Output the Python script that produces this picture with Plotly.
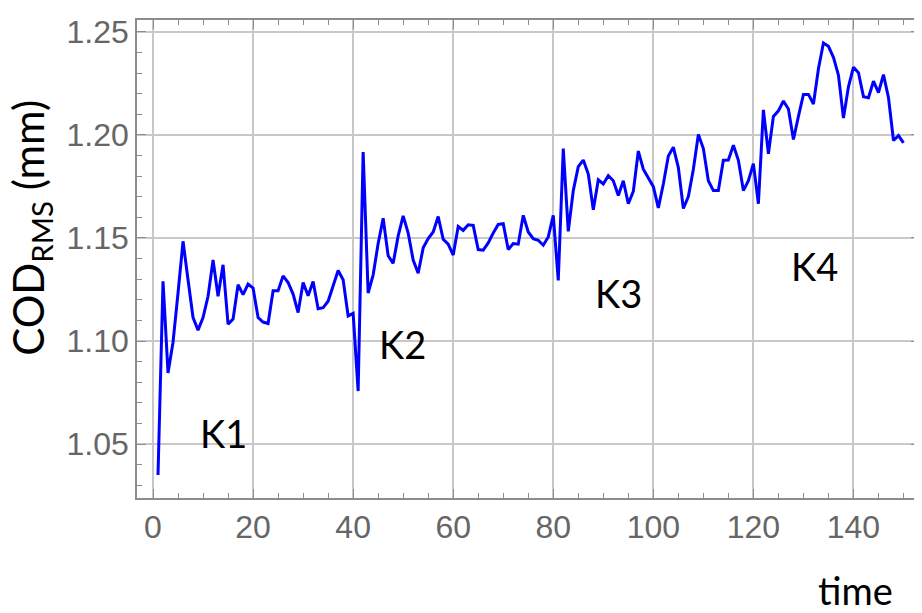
import plotly.graph_objects as go

time = list(range(1, 151))
cod_rms = [
    1.035, 1.129, 1.0845, 1.0994, 1.1233, 1.1484, 1.1297, 1.1114, 1.1053, 1.1114,
    1.1217, 1.1393, 1.1217, 1.1370, 1.1082, 1.1106, 1.1273, 1.1225, 1.1276, 1.1257,
    1.1114, 1.1092, 1.1085, 1.1244, 1.1244, 1.1316, 1.1284, 1.1228, 1.1138, 1.1284,
    1.1220, 1.1289, 1.1157, 1.1162, 1.1193, 1.1265, 1.1342, 1.1297, 1.1122, 1.1134,
    1.0757, 1.1917, 1.1233, 1.1321, 1.1473, 1.1596, 1.1414, 1.1377, 1.1510, 1.1607,
    1.1524, 1.1393, 1.1329, 1.1452, 1.1497, 1.1529, 1.1604, 1.1494, 1.1470, 1.1417,
    1.1556, 1.1537, 1.1564, 1.1561, 1.1444, 1.1441, 1.1476, 1.1524, 1.1566, 1.1569,
    1.1444, 1.1473, 1.1470, 1.1610, 1.1529, 1.1497, 1.1489, 1.1465, 1.1505, 1.1610,
    1.1294, 1.1934, 1.1532, 1.1730, 1.1846, 1.1878, 1.1810, 1.1637, 1.1782, 1.1762,
    1.1802, 1.1778, 1.1706, 1.1778, 1.1666, 1.1726, 1.1922, 1.1834, 1.1794, 1.1749,
    1.1646, 1.1762, 1.1898, 1.1941, 1.1842, 1.1643, 1.1701, 1.1834, 1.2002, 1.1934,
    1.1778, 1.1730, 1.1730, 1.1877, 1.1878, 1.1950, 1.1877, 1.1730, 1.1778, 1.1861,
    1.1666, 1.2122, 1.1909, 1.2090, 1.2117, 1.2165, 1.2126, 1.1978, 1.2090, 1.2197,
    1.2197, 1.2150, 1.2321, 1.2446, 1.2430, 1.2377, 1.2290, 1.2082, 1.2234, 1.2329,
    1.2302, 1.2186, 1.2181, 1.2261, 1.2206, 1.2293, 1.2181, 1.1973, 1.1997, 1.1962,
]

region_labels = ["K1", "K2", "K3", "K4"]
region_label_x = [14.0, 49.9, 93.1, 132.3]
region_label_y = [1.0552, 1.0984, 1.1234, 1.1363]

x_tickvals = [0, 20, 40, 60, 80, 100, 120, 140]
y_tickvals = [1.05, 1.10, 1.15, 1.20, 1.25]
y_ticktext = ["1.05", "1.10", "1.15", "1.20", "1.25"]

frame_color = "#8c8c8c"
grid_color = "#c8c8c8"
tick_font = dict(family="Liberation Sans, Arial, sans-serif", size=32, color="#666666")
label_font = dict(family="Lato, sans-serif", size=38, color="black")

fig = go.Figure()
fig.add_trace(go.Scatter(
    x=time, y=cod_rms, mode="lines",
    line=dict(color="#0000ff", width=3),
    showlegend=False, hoverinfo="skip",
))

for t, xx, yy in zip(region_labels, region_label_x, region_label_y):
    fig.add_annotation(x=xx, y=yy, text=t, showarrow=False,
                       xanchor="center", yanchor="middle", font=label_font)

fig.add_annotation(xref="paper", yref="paper", x=0.917, y=-0.192, text="time",
                   showarrow=False, xanchor="center", yanchor="middle",
                   font=dict(family="Lato, sans-serif", size=38, color="black"))

fig.add_annotation(xref="paper", yref="paper", x=-0.135, y=0.566,
                   text="COD<sub>RMS</sub> (mm)", textangle=-90, showarrow=False,
                   xanchor="center", yanchor="middle",
                   font=dict(family="Lato, sans-serif", size=42, color="black"))

axis_common = dict(
    showline=True, linecolor=frame_color, linewidth=1.5, mirror="ticks",
    ticks="inside", tickcolor=frame_color, tickwidth=1.2, ticklen=9,
    showgrid=True, gridcolor=grid_color, gridwidth=1.6, zeroline=False,
    tickfont=tick_font,
)

fig.update_xaxes(range=[-3.2, 153.3], tickvals=x_tickvals,
                 minor=dict(dtick=5, tick0=0, ticks="inside", ticklen=5, tickcolor=frame_color, showgrid=False),
                 **axis_common)
fig.update_yaxes(range=[1.0238, 1.2558], tickvals=y_tickvals, ticktext=y_ticktext,
                 minor=dict(dtick=0.01, tick0=1.0, ticks="inside", ticklen=5, tickcolor=frame_color, showgrid=False),
                 **axis_common)

fig.update_layout(
    width=922, height=613,
    margin=dict(l=129, r=10, t=6, b=123, pad=0),
    paper_bgcolor="white", plot_bgcolor="white",
)

fig.write_html("out.html")
